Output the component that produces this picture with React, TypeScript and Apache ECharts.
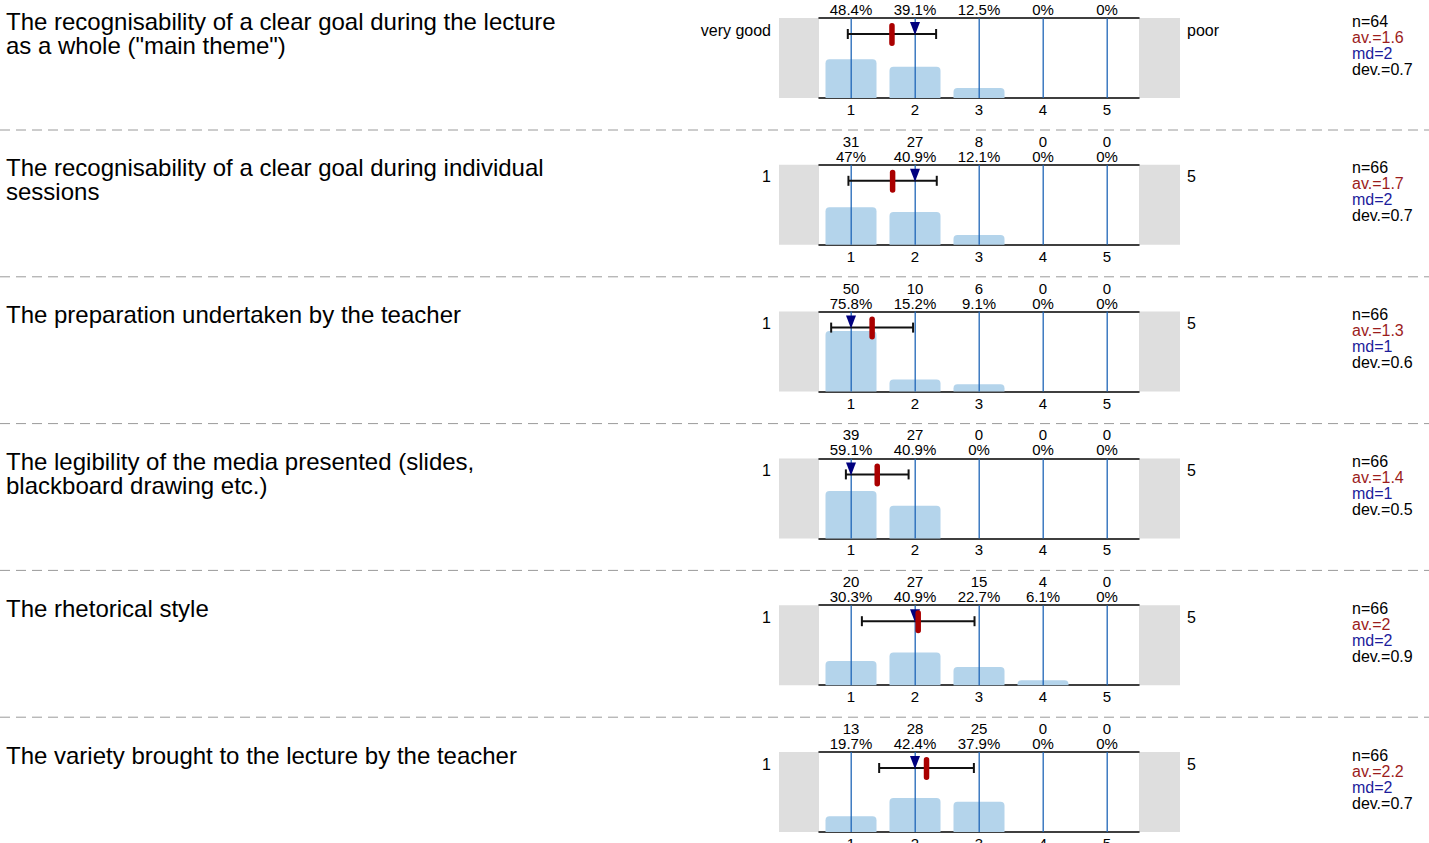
import React, { useEffect, useRef } from "react";
import * as echarts from "echarts";

const questions = [
  "The recognisability of a clear goal during the lecture\nas a whole (\"main theme\")",
  "The recognisability of a clear goal during individual\nsessions",
  "The preparation undertaken by the teacher",
  "The legibility of the media presented (slides,\nblackboard drawing etc.)",
  "The rhetorical style",
  "The variety brought to the lecture by the teacher",
];
const scaleCats = ["1", "2", "3", "4", "5"];
const scaleValues = [1, 2, 3, 4, 5];
const counts = [
  [31, 25, 8, 0, 0],
  [31, 27, 8, 0, 0],
  [50, 10, 6, 0, 0],
  [39, 27, 0, 0, 0],
  [20, 27, 15, 4, 0],
  [13, 28, 25, 0, 0],
];
const percents = [
  [48.4, 39.1, 12.5, 0, 0],
  [47, 40.9, 12.1, 0, 0],
  [75.8, 15.2, 9.1, 0, 0],
  [59.1, 40.9, 0, 0, 0],
  [30.3, 40.9, 22.7, 6.1, 0],
  [19.7, 42.4, 37.9, 0, 0],
];
const nValues = [64, 66, 66, 66, 66, 66];
const avLabels = ["1.6", "1.7", "1.3", "1.4", "2", "2.2"];
const mdLabels = ["2", "2", "1", "1", "2", "2"];
const devLabels = ["0.7", "0.7", "0.6", "0.5", "0.9", "0.7"];
const means = [1.64, 1.65, 1.33, 1.41, 2.05, 2.18];
const sds = [0.69, 0.69, 0.64, 0.49, 0.88, 0.74];
const medians = [2, 2, 1, 1, 2, 2];
const leftLabels = ["very good", "1", "1", "1", "1", "1"];
const rightLabels = ["poor", "5", "5", "5", "5", "5"];

const FONT = "Liberation Sans, Arial, sans-serif";
const PLOT_LEFT = 819;
const PLOT_W = 320;
const PLOT_H = 80;
const GRAY_W = 40;
const panelTop = (i: number) => 18 + i * 146.8;

export default function App() {
  const ref = useRef<HTMLDivElement>(null);
  useEffect(() => {
    const chart = echarts.init(ref.current!, null, { renderer: "svg" });
    const grid: any[] = [];
    const xAxis: any[] = [];
    const yAxis: any[] = [];
    const series: any[] = [];
    const graphic: any[] = [];

    questions.forEach((q, i) => {
      const top = panelTop(i);
      grid.push({ left: PLOT_LEFT, width: PLOT_W, top, height: PLOT_H, containLabel: false, outerBoundsMode: "none" });
      xAxis.push({
        type: "category",
        gridIndex: i,
        position: "bottom",
        data: scaleCats,
        axisLine: { onZero: false, lineStyle: { color: "#000", width: 1.5 } },
        axisTick: { show: false },
        axisLabel: { color: "#000", fontSize: 15, fontFamily: FONT, margin: 4, lineHeight: 15 },
        splitLine: { show: false },
      });
      xAxis.push({
        type: "category",
        gridIndex: i,
        position: "top",
        data: scaleCats.map((_, k) => `${counts[i][k]}\n${percents[i][k]}%`),
        axisLine: { onZero: false, lineStyle: { color: "#000", width: 1.5 } },
        axisTick: { show: false },
        axisLabel: { color: "#000", fontSize: 15, fontFamily: FONT, margin: 1, lineHeight: 15 },
        splitLine: { show: false },
      });
      xAxis.push({ type: "value", gridIndex: i, min: 0.5, max: 5.5, show: false });
      yAxis.push({ type: "value", gridIndex: i, min: 0, max: 100, show: false });

      series.push({
        type: "bar",
        xAxisIndex: 3 * i,
        yAxisIndex: i,
        data: percents[i],
        barWidth: 51,
        z: 2,
        itemStyle: { color: "#b4d4eb", borderRadius: [4, 4, 0, 0] },
      });
      series.push({
        type: "custom",
        xAxisIndex: 3 * i + 2,
        yAxisIndex: i,
        clip: false,
        z: 3,
        data: scaleValues.map((v) => [v]),
        renderItem: (params: any, api: any) => {
          const v = api.value(0);
          const p0 = api.coord([v, 0]);
          const p1 = api.coord([v, 100]);
          const x = p0[0] + 0.2;
          return {
            type: "line",
            shape: { x1: x, y1: p1[1], x2: x, y2: p0[1] },
            style: { stroke: "#1f66b8", lineWidth: 1.3 },
          };
        },
      });
      series.push({
        type: "custom",
        xAxisIndex: 3 * i + 2,
        yAxisIndex: i,
        clip: false,
        z: 5,
        data: [[means[i], sds[i], medians[i]]],
        renderItem: (params: any, api: any) => {
          const m = api.value(0);
          const s = api.value(1);
          const md = api.value(2);
          const y = api.coord([m, 80])[1];
          const yTop = api.coord([m, 100])[1];
          const xl = api.coord([m - s, 80])[0];
          const xr = api.coord([m + s, 80])[0];
          const xm = api.coord([m, 80])[0];
          const xmd = api.coord([md, 80])[0];
          return {
            type: "group",
            children: [
              { type: "line", shape: { x1: xl, y1: y, x2: xr, y2: y }, style: { stroke: "#111", lineWidth: 2 } },
              { type: "line", shape: { x1: xl, y1: y - 5, x2: xl, y2: y + 5 }, style: { stroke: "#111", lineWidth: 2 } },
              { type: "line", shape: { x1: xr, y1: y - 5, x2: xr, y2: y + 5 }, style: { stroke: "#111", lineWidth: 2 } },
              {
                type: "polygon",
                shape: { points: [[xmd - 5, yTop + 4], [xmd + 5, yTop + 4], [xmd, yTop + 17]] },
                style: { fill: "#00007f" },
              },
              {
                type: "rect",
                shape: { x: xm - 2.75, y: y - 11, width: 5.5, height: 23, r: 2.75 },
                style: { fill: "#aa0000" },
              },
            ],
          };
        },
      });

      graphic.push({
        type: "rect",
        shape: { x: PLOT_LEFT - GRAY_W, y: top, width: GRAY_W, height: PLOT_H },
        style: { fill: "#dedede" },
        z: -1,
      });
      graphic.push({
        type: "rect",
        shape: { x: PLOT_LEFT + PLOT_W, y: top, width: GRAY_W + 1, height: PLOT_H },
        style: { fill: "#dedede" },
        z: -1,
      });
      graphic.push({
        type: "text",
        x: 6,
        y: top - 9,
        style: { text: q, font: `24px ${FONT}`, fill: "#000", lineHeight: 24, verticalAlign: "top", align: "left" },
      });
      graphic.push({
        type: "text",
        x: 771,
        y: top + 12,
        style: { text: leftLabels[i], font: `16px ${FONT}`, fill: "#000", verticalAlign: "middle", align: "right" },
      });
      graphic.push({
        type: "text",
        x: 1187,
        y: top + 12,
        style: { text: rightLabels[i], font: `16px ${FONT}`, fill: "#000", verticalAlign: "middle", align: "left" },
      });
      graphic.push({
        type: "text",
        x: 1352,
        y: top - 5,
        style: {
          text: `{n|n=${nValues[i]}}\n{a|av.=${avLabels[i]}}\n{m|md=${mdLabels[i]}}\n{d|dev.=${devLabels[i]}}`,
          font: `16px ${FONT}`,
          verticalAlign: "top",
          align: "left",
          rich: {
            n: { fill: "#000", fontSize: 16, fontFamily: FONT, lineHeight: 16 },
            a: { fill: "#9b1c1c", fontSize: 16, fontFamily: FONT, lineHeight: 16 },
            m: { fill: "#1c1c9b", fontSize: 16, fontFamily: FONT, lineHeight: 16 },
            d: { fill: "#000", fontSize: 16, fontFamily: FONT, lineHeight: 16 },
          },
        },
      });
      if (i < questions.length - 1) {
        const ys = top + 112;
        graphic.push({
          type: "line",
          shape: { x1: 0, y1: ys, x2: 1429, y2: ys },
          style: { stroke: "#9a9a9a", lineWidth: 1, lineDash: [10, 6] },
        });
      }
    });

    chart.setOption({
      animation: false,
      grid,
      xAxis,
      yAxis,
      series,
      graphic,
    });
    return () => chart.dispose();
  }, []);
  return <div ref={ref} style={{ position: "fixed", left: 0, top: 0, width: 1429, height: 843, background: "#fff" }} />;
}
